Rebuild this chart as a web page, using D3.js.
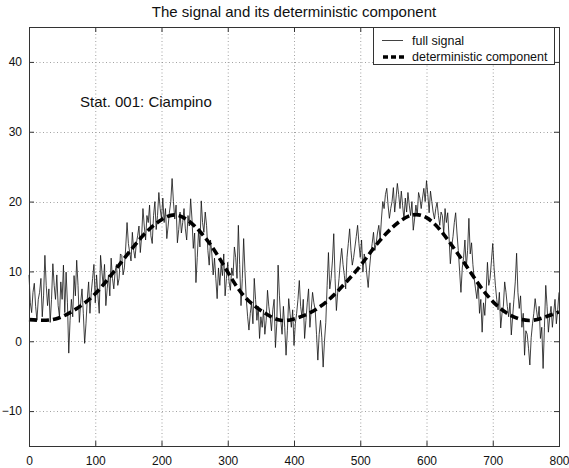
<!DOCTYPE html>
<html>
<head>
<meta charset="utf-8">
<script src="https://cdn.jsdelivr.net/npm/d3@7"></script>
<style>
  html, body { margin: 0; padding: 0; background: #fff; }
  svg { display: block; font-family: "Liberation Sans", Arial, Helvetica, sans-serif; }
</style>
</head>
<body>
<svg id="chart" width="569" height="468"></svg>
<script>
// Temperature series, one value every 2 days (day = index * step)
const step = 2;
const signal = [
  9.5, 5.5, 4.1, 7.0, 8.3, 5.0, 3.0, 6.0, 7.0, 9.0, 3.5, 6.5, 12.3, 8.0, 5.1, 7.5, 2.7, 6.0, 11.1, 8.0,
  6.0, 9.5, 5.1, 3.5, 8.5, 6.0, 10.9, 4.1, 9.9, 5.5, -1.7, 3.0, 6.0, 3.5, 9.4, 6.5, 11.6, 8.0, 2.7, 5.5,
  7.5, 4.0, -0.3, 2.5, 6.1, 8.5, 4.0, 7.0, 9.0, 11.0, 5.5, 9.5, 6.6, 4.0, 12.3, 10.0, 8.0, 11.0, 5.1, 7.5,
  9.5, 6.5, 11.9, 9.0, 7.5, 10.0, 11.0, 8.0, 9.0, 12.5, 12.3, 9.5, 10.5, 13.5, 17.0, 14.0, 12.7, 11.5, 15.6, 13.0,
  11.9, 14.0, 15.1, 16.5, 12.7, 15.0, 19.0, 16.5, 14.5, 18.0, 17.0, 19.5, 15.1, 14.0, 18.0, 20.0, 16.0, 18.0, 21.3, 19.0,
  17.5, 20.5, 17.0, 19.0, 14.7, 16.5, 18.5, 20.0, 23.3, 20.0, 17.5, 19.5, 14.1, 16.0, 18.5, 15.5, 17.0, 19.0, 16.1, 14.5,
  18.0, 16.5, 20.4, 17.5, 13.3, 15.5, 8.4, 12.0, 16.0, 13.5, 20.1, 17.0, 15.6, 18.5, 16.6, 13.0, 10.9, 14.5, 12.5, 9.5,
  11.9, 9.0, 6.1, 10.5, 8.0, 11.0, 9.4, 12.5, 6.5, 9.0, 11.3, 8.5, 7.3, 10.5, 9.4, 13.5, 12.0, 9.0, 16.6, 11.0,
  5.1, 9.0, 14.7, 10.0, 6.0, 3.5, 1.6, 4.0, 5.5, 2.5, 9.0, 6.0, 3.0, 5.0, 0.4, 3.5, 2.0, 4.5, 1.0, 3.0,
  7.3, 5.0, 3.5, 1.5, 4.5, 6.0, -0.9, 2.5, 10.9, 6.5, 3.0, 1.0, 5.0, 2.0, -2.0, 1.5, 6.1, 4.0, 2.0, 4.5,
  -0.6, 2.5, 4.0, 6.0, 8.7, 5.0, 3.5, 6.0, 0.4, 3.0, 5.5, 7.5, 2.0, 4.5, 7.0, 5.5, 4.5, 1.0, -2.7, 1.0,
  3.0, 0.5, -3.7, 0.0, 2.7, 8.0, 12.7, 7.5, 9.0, 11.5, 15.4, 9.0, 4.4, 7.0, 9.0, 11.5, 13.3, 11.0, 9.4, 7.5,
  12.0, 14.0, 16.1, 13.0, 10.9, 12.0, 13.5, 15.0, 16.6, 14.0, 12.0, 14.5, 9.9, 12.5, 11.5, 9.5, 7.7, 10.5, 12.5, 14.0,
  15.6, 13.0, 14.0, 15.5, 16.6, 14.5, 17.5, 20.0, 19.0, 21.0, 21.9, 19.5, 17.6, 19.0, 20.0, 22.0, 18.5, 20.5, 22.6, 21.0,
  19.0, 21.5, 19.4, 17.5, 20.5, 18.5, 21.3, 19.5, 18.0, 20.0, 15.9, 17.5, 19.5, 18.0, 21.3, 20.5, 19.0, 20.5, 21.9, 20.0,
  23.0, 21.0, 18.4, 21.5, 20.0, 18.5, 17.5, 19.0, 19.9, 18.0, 16.6, 18.5, 18.0, 15.5, 19.0, 17.0, 18.4, 15.0, 11.1, 13.5,
  15.0, 17.0, 18.4, 15.5, 13.0, 10.0, 7.0, 10.5, 12.0, 14.5, 10.5, 13.0, 17.6, 12.5, 14.1, 11.0, 9.0, 7.5, 6.1, 8.5,
  4.0, 6.0, 1.3, 5.5, 3.7, 7.0, 11.3, 8.0, 9.0, 11.5, 14.0, 10.5, 8.0, 6.0, 4.5, 7.0, 1.9, 4.0, 5.0, 8.5,
  7.0, 5.0, 3.5, 5.5, 0.9, 3.5, 6.0, 8.5, 12.6, 7.0, 4.7, 6.5, 2.0, 4.0, -2.0, 1.5, 1.0, -1.0, -3.4, 0.5,
  2.5, 4.0, 6.1, 4.5, 3.0, 5.0, 0.4, 2.0, -3.9, 2.0, 8.0, 5.0, 1.3, 3.5, 5.0, 2.0, 4.1, 6.0, 2.5, 4.5,
  7.0
];

// Seasonal (deterministic) component, every 20 days
const detStep = 20;
const deterministic = [
  3.1, 3.0, 3.2, 4.0, 5.2, 6.8, 9.0, 11.4, 13.8, 15.9,
  17.4, 18.1, 17.3, 15.5, 13.0, 9.9, 7.0, 5.1, 3.8, 3.0,
  3.2, 3.9, 5.0, 6.6, 8.6, 10.8, 13.3, 15.5, 17.2, 18.1,
  17.7, 16.0, 13.5, 10.8, 8.0, 5.7, 4.1, 3.2, 3.0, 3.5,
  4.2
];

const xTicks = [0, 100, 200, 300, 400, 500, 600, 700, 800];
const yTicks = [-10, 0, 10, 20, 30, 40];
const titleText = "The signal and its deterministic component";
const stationLabel = "Stat. 001: Ciampino";
const legendLabels = ["full signal", "deterministic component"];

const svg = d3.select("#chart");
const L = 29, R = 559, T = 27, B = 446;

const x = d3.scaleLinear().domain([0, 800]).range([L, R]);
const y = d3.scaleLinear().domain([-15, 45]).range([B, T]);

// Dotted grid
const grid = svg.append("g").attr("stroke", "#8a8a8a").attr("stroke-width", 0.8)
  .attr("stroke-dasharray", "1,2.5");
grid.selectAll("line.gx").data(xTicks.filter(d => d > 0 && d < 800)).join("line")
  .attr("x1", d => x(d) + 0.5).attr("x2", d => x(d) + 0.5)
  .attr("y1", T).attr("y2", B);
grid.selectAll("line.gy").data(yTicks).join("line")
  .attr("x1", L).attr("x2", R)
  .attr("y1", d => Math.round(y(d)) + 0.5).attr("y2", d => Math.round(y(d)) + 0.5);

// Full signal
const sigData = signal.map((v, i) => [i * step, v]);
svg.append("path")
  .datum(sigData)
  .attr("fill", "none")
  .attr("stroke", "#111")
  .attr("stroke-width", 0.8)
  .attr("d", d3.line().x(d => x(d[0])).y(d => y(d[1])));

// Deterministic component
const detData = deterministic.map((v, i) => [i * detStep, v]);
svg.append("path")
  .datum(detData)
  .attr("fill", "none")
  .attr("stroke", "#000")
  .attr("stroke-width", 3.6)
  .attr("stroke-dasharray", "8,4")
  .attr("d", d3.line().curve(d3.curveNatural).x(d => x(d[0])).y(d => y(d[1])));

// Axes with inward ticks on all four sides
const axisColor = "#333";
const gx = svg.append("g").attr("transform", `translate(0,${B})`)
  .call(d3.axisBottom(x).tickValues(xTicks).tickSize(-5).tickPadding(10).tickFormat(d3.format("d")));
const gy = svg.append("g").attr("transform", `translate(${L},0)`)
  .call(d3.axisLeft(y).tickValues(yTicks).tickSize(-5).tickPadding(7).tickFormat(d3.format("d")));
const gxt = svg.append("g").attr("transform", `translate(0,${T})`)
  .call(d3.axisTop(x).tickValues(xTicks).tickSize(-5).tickFormat(""));
const gyr = svg.append("g").attr("transform", `translate(${R},0)`)
  .call(d3.axisRight(y).tickValues(yTicks).tickSize(-5).tickFormat(""));
[gx, gy, gxt, gyr].forEach(g => {
  g.select(".domain").remove();
  g.selectAll("line").attr("stroke", axisColor);
  g.selectAll("text").attr("fill", "#111").style("font-size", "12px")
    .style("font-family", "'Liberation Sans', Arial, sans-serif");
});

// Plot box
svg.append("rect")
  .attr("x", L + 0.5).attr("y", T + 0.5)
  .attr("width", R - L).attr("height", B - T)
  .attr("fill", "none").attr("stroke", axisColor).attr("stroke-width", 1);

// Title
svg.append("text")
  .attr("x", (L + R) / 2).attr("y", 17)
  .attr("text-anchor", "middle")
  .style("font-size", "15px").attr("fill", "#111")
  .text(titleText);

// Station label
svg.append("text")
  .attr("x", x(77)).attr("y", y(33.6))
  .style("font-size", "15px").attr("fill", "#111")
  .text(stationLabel);

// Legend
const lg = svg.append("g");
lg.append("rect")
  .attr("x", 373.5).attr("y", T + 0.5).attr("width", 181).attr("height", 37)
  .attr("fill", "#fff").attr("stroke", axisColor).attr("stroke-width", 1);
lg.append("line").attr("x1", 382).attr("x2", 403).attr("y1", 40.5).attr("y2", 40.5)
  .attr("stroke", "#111").attr("stroke-width", 0.8);
lg.append("line").attr("x1", 383).attr("x2", 404).attr("y1", 57).attr("y2", 57)
  .attr("stroke", "#000").attr("stroke-width", 3.6).attr("stroke-dasharray", "5,3");
lg.selectAll("text.lab").data(legendLabels).join("text")
  .attr("x", 412).attr("y", (d, i) => 44.5 + i * 16.5)
  .style("font-size", "12.5px").attr("fill", "#111")
  .text(d => d);
</script>
</body>
</html>
